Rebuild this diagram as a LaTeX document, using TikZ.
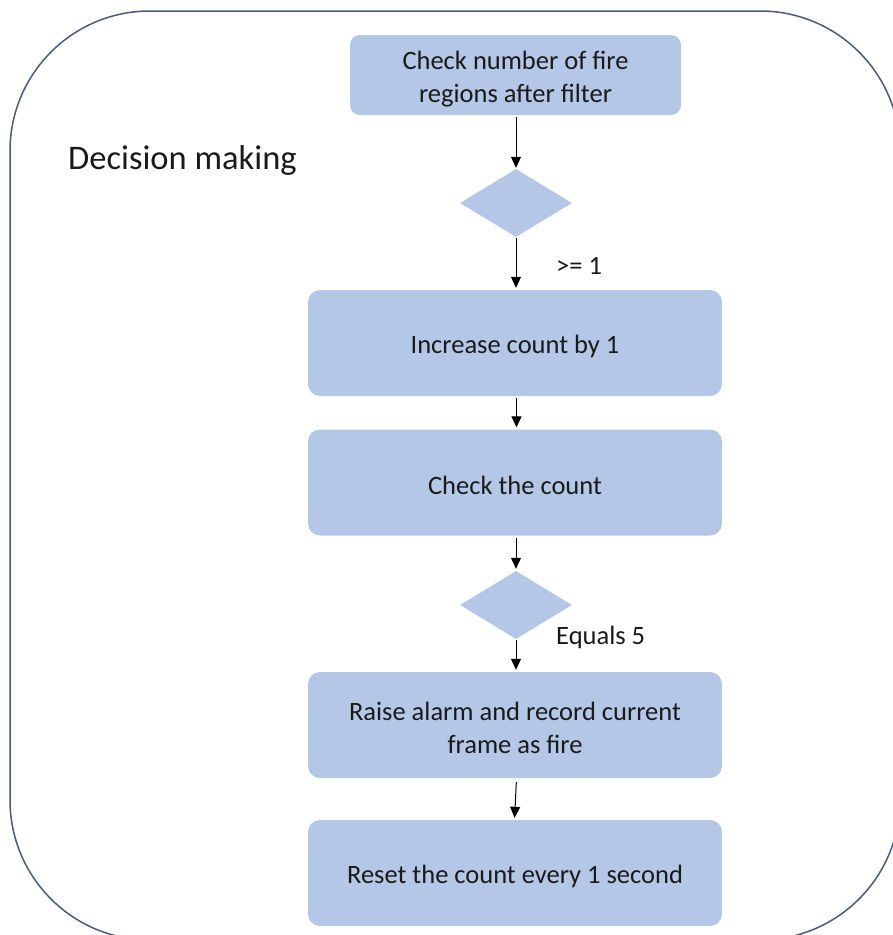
\documentclass[tikz,border=0pt]{standalone}
\usepackage{fontspec}
\setmainfont{Carlito}
\usetikzlibrary{shapes.geometric,arrows.meta}
\definecolor{boxfill}{HTML}{B4C7E7}
\definecolor{framecol}{HTML}{4A5A78}
\definecolor{txt}{HTML}{1A1A1A}
\tikzset{
  stepbox/.style={draw=none, fill=boxfill, rounded corners=12pt,
    inner sep=0pt, minimum width=414pt, minimum height=106pt},
  topbox/.style={stepbox, minimum width=331pt, minimum height=80pt, rounded corners=10pt},
  boxtext/.style={text=txt, align=center, inner sep=0pt,
    font=\fontsize{26.5}{33}\selectfont},
  choice/.style={diamond, draw=none, fill=boxfill, inner sep=0pt,
    minimum width=112pt, minimum height=68pt},
  arr/.style={draw=black, line width=1pt, -{Triangle[width=10pt,length=11pt]}},
  lbl/.style={text=txt, anchor=west, inner sep=0pt, font=\fontsize{26.5}{33}\selectfont}
}
\begin{document}
\begin{tikzpicture}[x=1pt,y=-1pt]
  \useasboundingbox (0,0) rectangle (893,935);
  \clip (0,0) rectangle (893,935);

  % enclosing frame
  \draw[framecol, line width=1.5pt, rounded corners=140pt] (10,11) rectangle (900,940);
  \node[lbl, font=\fontsize{34.5}{40}\selectfont] (title) at (68,160) {Decision making};

  % flow steps (shapes)
  \node[topbox] (check) at (515.5,75) {};
  \node[choice] (d1) at (516,203) {};
  \node[stepbox] (incr) at (515,343) {};
  \node[stepbox] (cnt) at (515,482.5) {};
  \node[choice] (d2) at (516,605) {};
  \node[stepbox] (raise) at (515,725) {};
  \node[stepbox] (reset) at (515,873) {};

  % step texts
  \node[boxtext] (check-t) at ([yshift=-4pt]check.center) {Check number of fire\\regions after filter};
  \node[boxtext] (incr-t) at ([yshift=-3pt]incr.center) {Increase count by 1};
  \node[boxtext] (cnt-t) at ([yshift=-3pt]cnt.center) {Check the count};
  \node[boxtext] (raise-t) at ([yshift=-3pt]raise.center) {Raise alarm and record current\\frame as fire};
  \node[boxtext] (reset-t) at ([yshift=-3pt]reset.center) {Reset the count every 1 second};

  % branch labels
  \node[lbl] (l1) at (556,266) {>= 1};
  \node[lbl] (l2) at (556,637) {Equals 5};

  % connectors
  \draw[arr, shorten <=2pt, shorten >=1pt] (check.south -| d1.north) -- (d1.north);
  \draw[arr, shorten <=1pt, shorten >=2pt] (d1.south) -- (d1.south |- incr.north);
  \draw[arr, shorten <=2pt, shorten >=2pt] ([xshift=1.5pt]incr.south) -- ([xshift=1.5pt]cnt.north);
  \draw[arr, shorten <=2pt, shorten >=2pt] (cnt.south -| d2.north) -- (d2.north);
  \draw[arr, shorten <=1pt, shorten >=2pt] (d2.south) -- (d2.south |- raise.north);
  \draw[arr, shorten <=4pt, shorten >=2pt] ([xshift=1.5pt]raise.south) -- ([xshift=-0.5pt]reset.north);
\end{tikzpicture}
\end{document}
